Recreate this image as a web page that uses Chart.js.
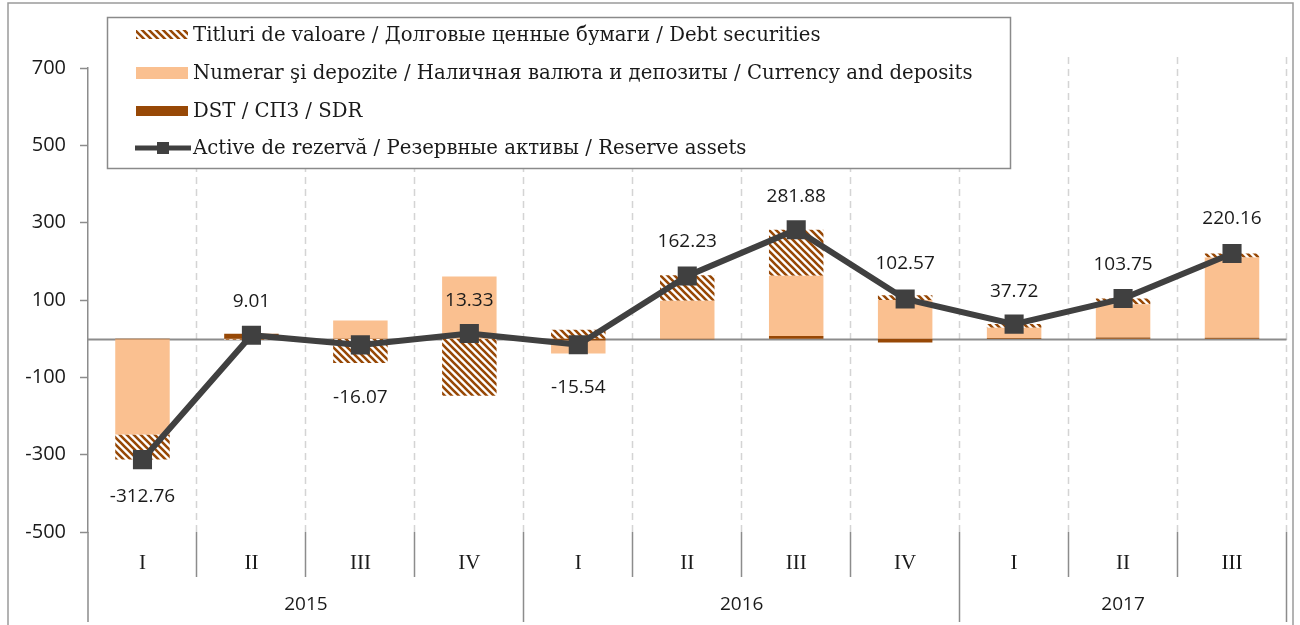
<!DOCTYPE html>
<html>
<head>
<meta charset="utf-8">
<script src="https://cdn.jsdelivr.net/npm/chart.js@4.4.1/dist/chart.umd.min.js"></script>
<style>
  html, body { margin: 0; padding: 0; background: #fff; }
</style>
</head>
<body>
<canvas id="reserveChart" width="1300" height="625"></canvas>
<script>
// Data
const quarters = ['I', 'II', 'III', 'IV', 'I', 'II', 'III', 'IV', 'I', 'II', 'III'];
const years = ['2015', '2016', '2017'];
const quartersPerYear = [4, 4, 3];
const sdr = [-1.76, 12.5, -1, 0, -5, -1.77, 7, -10, 2, 2.75, 2.16];
const currencyDeposits = [-246, -1.5, 47, 161, -33.54, 98, 156, 100, 26, 86, 208];
const debtSecurities = [-65, -1.99, -62.07, -147.67, 23, 66, 118.88, 12.57, 9.72, 15, 10];
const reserveAssets = [-312.76, 9.01, -16.07, 13.33, -15.54, 162.23, 281.88, 102.57, 37.72, 103.75, 220.16];
const yTicks = [-500, -300, -100, 100, 300, 500, 700];

const seriesNames = {
    debt: 'Titluri de valoare / Долговые ценные бумаги / Debt securities',
    currency: 'Numerar şi depozite / Наличная валюта и депозиты / Currency and deposits',
    sdr: 'DST / СПЗ / SDR',
    reserve: 'Active de rezervă / Резервные активы / Reserve assets'
};

const BROWN = '#974806';
const PEACH = '#FAC090';
const LINE = '#404040';
const AXIS = '#8c8c8c';
const SANS = '"Open Sans", "Noto Sans", sans-serif';
const SERIF = '"DejaVu Serif", "Liberation Serif", serif';

// vertical shift of each value label from its point (style only)
const labelShift = [37, -34, 53, -33, 43, -34, -33, -35, -32, -34, -35];

// Hatch pattern for debt securities
function makeHatch() {
    const size = 7;
    const c = document.createElement('canvas');
    c.width = size;
    c.height = size;
    const g = c.getContext('2d');
    g.fillStyle = '#fff';
    g.fillRect(0, 0, size, size);
    g.strokeStyle = BROWN;
    g.lineWidth = 2.6;
    g.beginPath();
    [-1, 0, 1].forEach(k => {
        g.moveTo(k * size - 1, -1);
        g.lineTo(k * size + size + 1, size + 1);
    });
    g.stroke();
    return g.createPattern(c, 'repeat');
}

const hatch = makeHatch();

// Extra drawing: frame, dashed grid, zero line, year row, labels, legend
const decorPlugin = {
    id: 'decor',
    beforeDatasetsDraw(chart) {
        const { ctx, chartArea } = chart;
        const y = chart.scales.y;
        const step = (chartArea.right - chartArea.left) / quarters.length;
        ctx.save();
        // dashed category gridlines
        ctx.strokeStyle = '#d4d4d4';
        ctx.lineWidth = 1.5;
        ctx.setLineDash([7, 5]);
        for (let i = 1; i <= quarters.length; i++) {
            const px = Math.round(chartArea.left + i * step) - 0.5;
            ctx.beginPath();
            ctx.moveTo(px, 57);
            ctx.lineTo(px, chartArea.bottom);
            ctx.stroke();
        }
        ctx.setLineDash([]);
        // zero line
        const zy = Math.round(y.getPixelForValue(0)) + 0.5;
        ctx.strokeStyle = AXIS;
        ctx.lineWidth = 2;
        ctx.beginPath();
        ctx.moveTo(chartArea.left, zy);
        ctx.lineTo(chartArea.right, zy);
        ctx.stroke();
        ctx.restore();
    },
    afterDraw(chart) {
        const { ctx, chartArea } = chart;
        const step = (chartArea.right - chartArea.left) / quarters.length;
        ctx.save();

        // outer frame
        ctx.strokeStyle = '#9a9a9a';
        ctx.lineWidth = 1.5;
        ctx.strokeRect(8, 3, 1285, 640);

        // category separators and year row
        ctx.strokeStyle = AXIS;
        ctx.lineWidth = 1.5;
        ctx.beginPath();
        ctx.moveTo(chartArea.left, chartArea.bottom);
        ctx.lineTo(chartArea.left, 622);
        for (let i = 1; i <= quarters.length; i++) {
            const px = Math.round(chartArea.left + i * step) - 0.5;
            ctx.moveTo(px, chartArea.bottom);
            ctx.lineTo(px, 577);
        }
        let acc = 0;
        ctx.font = '19px ' + SANS;
        ctx.fillStyle = '#1a1a1a';
        ctx.textAlign = 'center';
        ctx.textBaseline = 'middle';
        years.forEach((yr, j) => {
            const x0 = chartArea.left + acc * step;
            acc += quartersPerYear[j];
            const x1 = chartArea.left + acc * step;
            const px = Math.round(x1) - 0.5;
            ctx.moveTo(px, chartArea.bottom);
            ctx.lineTo(px, 622);
            ctx.fillText(yr, (x0 + x1) / 2, 605);
        });
        ctx.stroke();

        // value labels for reserve assets
        const meta = chart.getDatasetMeta(0);
        ctx.font = '19px ' + SANS;
        meta.data.forEach((pt, i) => {
            ctx.fillText(reserveAssets[i].toFixed(2), pt.x, pt.y + labelShift[i]);
        });

        // legend box
        ctx.fillStyle = '#fff';
        ctx.fillRect(107, 17, 903, 151);
        ctx.strokeStyle = '#8a8a8a';
        ctx.lineWidth = 1.5;
        ctx.strokeRect(107.5, 17.5, 903, 151);

        const rows = [
            { name: seriesNames.debt, y: 35, kind: 'hatch' },
            { name: seriesNames.currency, y: 73, kind: 'peach' },
            { name: seriesNames.sdr, y: 111, kind: 'brown' },
            { name: seriesNames.reserve, y: 148, kind: 'line' }
        ];
        rows.forEach(r => {
            if (r.kind === 'hatch') {
                ctx.fillStyle = hatch;
                ctx.fillRect(136, r.y - 5, 52, 9);
            } else if (r.kind === 'peach') {
                ctx.fillStyle = PEACH;
                ctx.fillRect(136, r.y - 6, 52, 12);
            } else if (r.kind === 'brown') {
                ctx.fillStyle = BROWN;
                ctx.fillRect(136, r.y - 5, 52, 10);
            } else {
                ctx.strokeStyle = LINE;
                ctx.lineWidth = 5;
                ctx.beginPath();
                ctx.moveTo(135, r.y);
                ctx.lineTo(191, r.y);
                ctx.stroke();
                ctx.fillStyle = LINE;
                ctx.fillRect(157, r.y - 6, 12, 12);
            }
            ctx.fillStyle = '#1a1a1a';
            ctx.font = '19.7px ' + SERIF;
            ctx.textAlign = 'left';
            ctx.textBaseline = 'middle';
            ctx.fillText(r.name, 193, r.y + 1);
        });

        ctx.restore();
    }
};

const ctx = document.getElementById('reserveChart').getContext('2d');
new Chart(ctx, {
    type: 'bar',
    data: {
        labels: quarters,
        datasets: [
            {
                type: 'line',
                label: seriesNames.reserve,
                data: reserveAssets,
                borderColor: LINE,
                borderWidth: 6,
                tension: 0,
                pointStyle: 'rect',
                pointRadius: 13.5,
                pointBackgroundColor: LINE,
                pointBorderWidth: 0,
                stack: 'line',
                order: 0
            },
            { label: seriesNames.sdr, data: sdr, backgroundColor: BROWN, order: 1 },
            { label: seriesNames.currency, data: currencyDeposits, backgroundColor: PEACH, order: 1 },
            { label: seriesNames.debt, data: debtSecurities, backgroundColor: hatch, order: 1 }
        ]
    },
    options: {
        responsive: false,
        animation: false,
        devicePixelRatio: 1,
        layout: { padding: { left: 8, right: 10, top: 68, bottom: 0 } },
        datasets: { bar: { barPercentage: 0.5, categoryPercentage: 1 } },
        plugins: {
            legend: { display: false },
            tooltip: { enabled: false }
        },
        scales: {
            x: {
                stacked: true,
                grid: { display: false, drawTicks: false },
                border: { display: false },
                ticks: {
                    font: { family: '"Liberation Serif", serif', size: 21 },
                    color: '#1a1a1a',
                    padding: 19,
                    maxRotation: 0,
                    autoSkip: false
                },
                afterFit(scale) { scale.height = 93; }
            },
            y: {
                stacked: true,
                min: -500,
                max: 700,
                afterBuildTicks(scale) {
                    scale.ticks = yTicks.map(v => ({ value: v }));
                },
                grid: { drawOnChartArea: false, tickLength: 8, tickColor: AXIS, tickWidth: 1.5 },
                border: { color: AXIS, width: 1.5 },
                ticks: {
                    font: { family: SANS, size: 20 },
                    color: '#1a1a1a',
                    padding: 14
                },
                afterFit(scale) { scale.width = 80; }
            }
        }
    },
    plugins: [decorPlugin]
});
</script>
</body>
</html>
